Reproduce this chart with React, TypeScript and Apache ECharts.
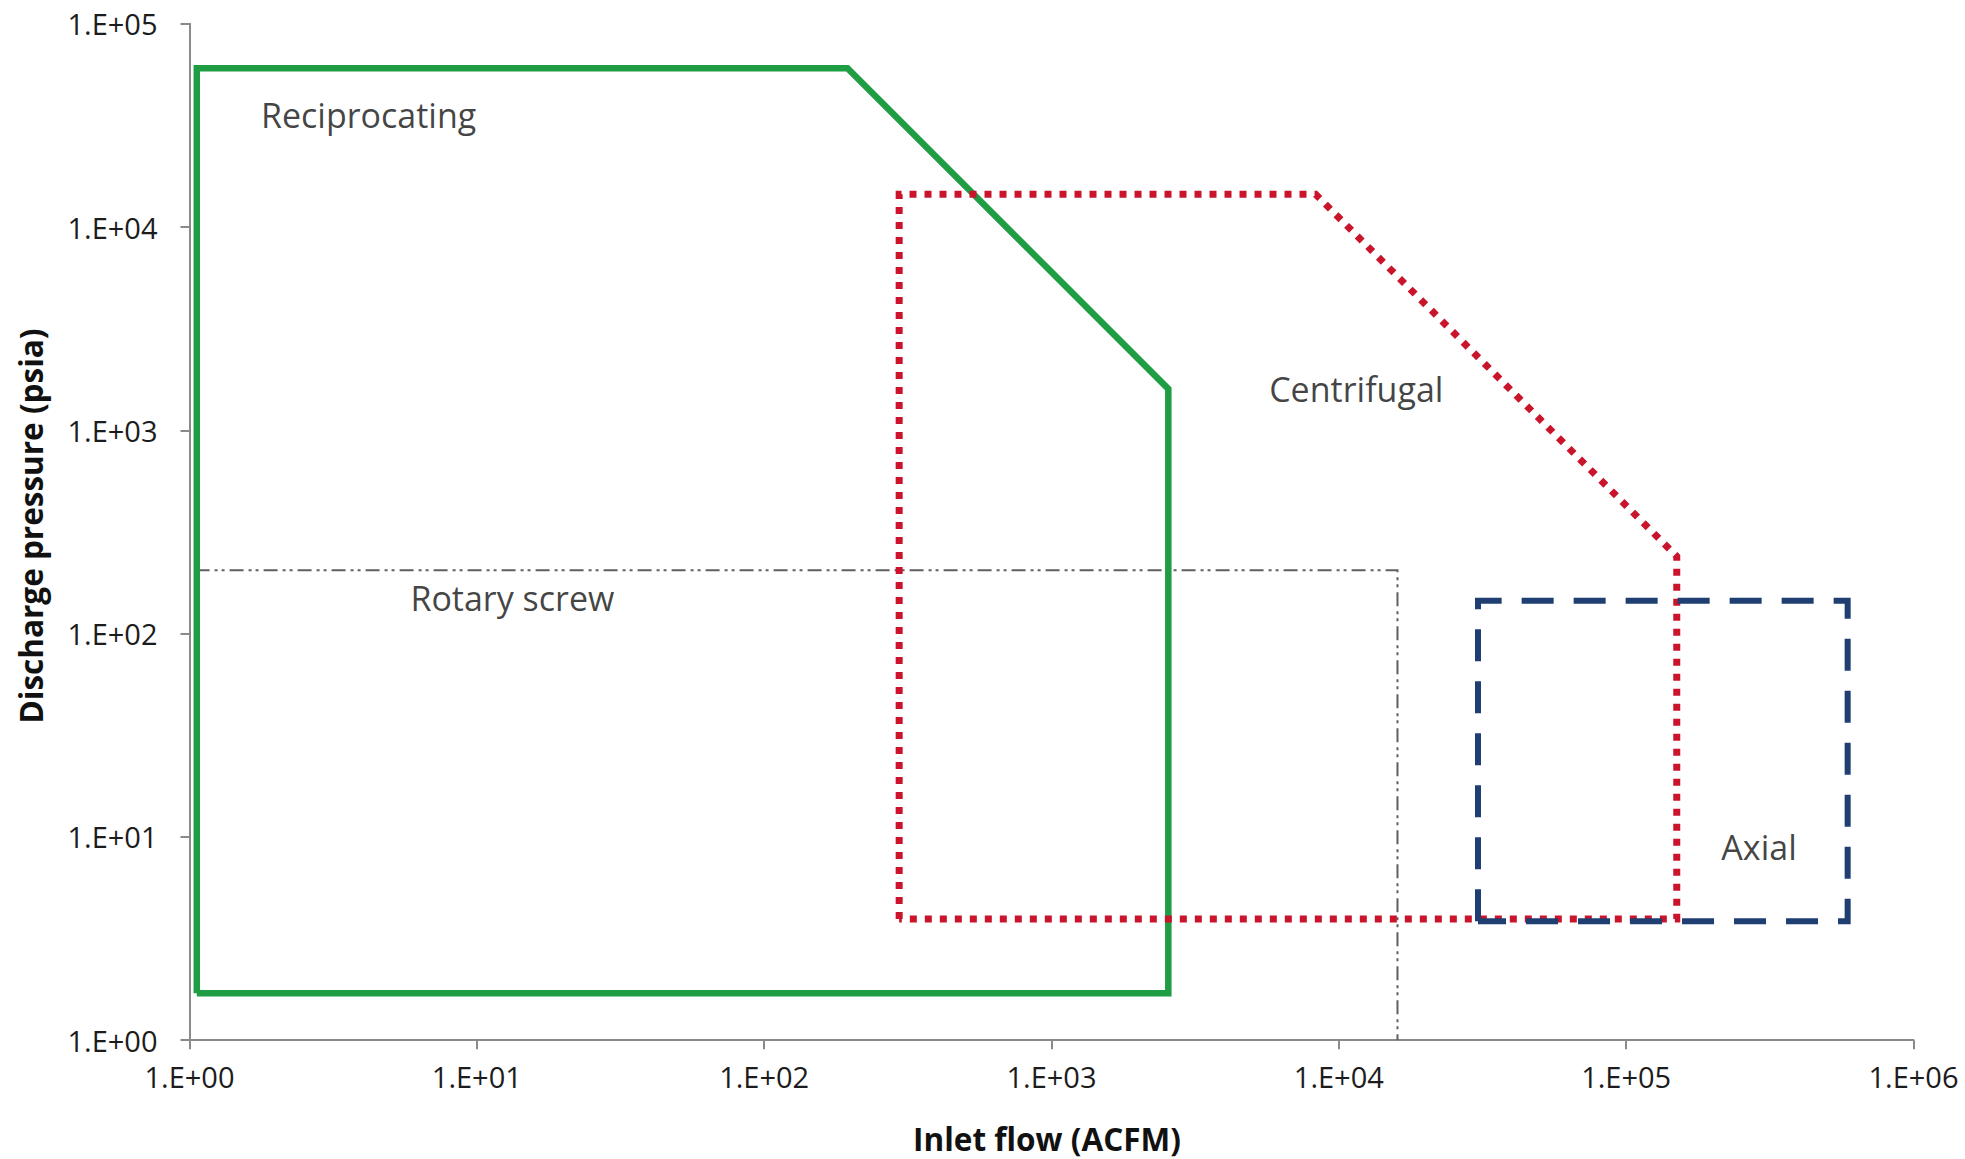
import React, { useEffect, useRef } from "react";
import * as echarts from "echarts";

// Envelope polygons: [inlet flow (ACFM), discharge pressure (psia)]
const reciprocating: [number, number][] = [
  [1.06, 1.7], [1.06, 60500], [195, 60500], [2550, 1600], [2550, 1.7], [1.06, 1.7],
];
const centrifugal: [number, number][] = [
  [295, 3.95], [295, 14500], [8300, 14500], [150000, 240], [150000, 3.95], [295, 3.95],
];
const rotaryScrew: [number, number][] = [
  [1.05, 205], [16000, 205], [16000, 1],
];
const axial: [number, number][] = [
  [30500, 3.85], [30500, 145], [590000, 145], [590000, 3.85], [30500, 3.85],
];
// Region labels (centre of text) [flow, pressure, name]
const regionLabels: [number, number, string][] = [
  [4.2, 35500, "Reciprocating"],
  [11500, 1600, "Centrifugal"],
  [13.3, 149, "Rotary screw"],
  [290000, 8.9, "Axial"],
];
const xName = "Inlet flow (ACFM)";
const yName = "Discharge pressure (psia)";

const fmt = (v: number) => {
  const e = Math.round(Math.log10(v));
  return "1.E+" + String(e).padStart(2, "0");
};

const FONT = "Open Sans";

export default function App() {
  const ref = useRef<HTMLDivElement>(null);
  useEffect(() => {
    if (!ref.current) return;
    const chart = echarts.init(ref.current, undefined, { renderer: "svg" });
    const axisCommon = {
      type: "log" as const,
      logBase: 10,
      min: 1,
      interval: 1,
      splitLine: { show: false },
      minorTick: { show: false },
      axisLine: { show: true, lineStyle: { color: "#8a8a8a", width: 2 } },
      axisTick: { show: true, inside: false, length: 9, lineStyle: { color: "#8a8a8a", width: 2 } },
    };
    chart.setOption({
      animation: false,
      backgroundColor: "#ffffff",
      grid: { left: 189.5, right: 51.5, top: 23.8, bottom: 118.8, containLabel: false },
      xAxis: {
        ...axisCommon,
        max: 1e6,
        axisLabel: { formatter: fmt, fontFamily: FONT, fontSize: 29, color: "#1c1c1c", margin: 22 },
      },
      yAxis: {
        ...axisCommon,
        max: 1e5,
        axisLabel: { formatter: fmt, fontFamily: FONT, fontSize: 29, color: "#1c1c1c", margin: 32 },
      },
      graphic: [
        {
          type: "text",
          x: 1047,
          y: 1138,
          style: {
            text: xName,
            font: `bold 31.5px "${FONT}"`,
            lineHeight: 34,
            fill: "#111111",
            align: "center",
            verticalAlign: "middle",
          },
        },
        {
          type: "text",
          x: 30,
          y: 526,
          rotation: Math.PI / 2,
          style: {
            text: yName,
            font: `bold 31.5px "${FONT}"`,
            lineHeight: 34,
            fill: "#111111",
            align: "center",
            verticalAlign: "middle",
          },
        },
      ],
      series: [
        {
          name: "Rotary screw",
          type: "line",
          data: rotaryScrew,
          symbol: "none",
          lineStyle: { color: "#5f5f5f", width: 2, type: [14, 5, 3, 4, 3, 5], join: "miter" },
          z: 2,
        },
        {
          name: "Reciprocating",
          type: "line",
          data: reciprocating,
          symbol: "none",
          lineStyle: { color: "#1f9d45", width: 6.5, join: "miter" },
          z: 3,
        },
        {
          name: "Centrifugal",
          type: "line",
          data: centrifugal,
          symbol: "none",
          lineStyle: { color: "#c9142c", width: 7, type: [7, 8], cap: "butt", join: "miter" },
          z: 4,
        },
        {
          name: "Axial",
          type: "line",
          data: axial,
          symbol: "none",
          lineStyle: { color: "#1f3f72", width: 6, type: [32, 20], cap: "butt", join: "miter" },
          z: 5,
        },
        {
          name: "labels",
          type: "scatter",
          symbolSize: 1,
          itemStyle: { color: "rgba(0,0,0,0)" },
          data: regionLabels.map((d) => ({ value: [d[0], d[1]], name: d[2] })),
          label: {
            show: true,
            position: "inside",
            formatter: "{b}",
            fontFamily: FONT,
            fontSize: 34,
            color: "#111111",
            align: "center",
            verticalAlign: "middle",
          },
          z: 6,
        },
      ],
    });
    return () => chart.dispose();
  }, []);
  return (
    <div
      ref={ref}
      style={{ position: "fixed", left: 0, top: 0, width: 1965, height: 1159, background: "#fff" }}
    />
  );
}
